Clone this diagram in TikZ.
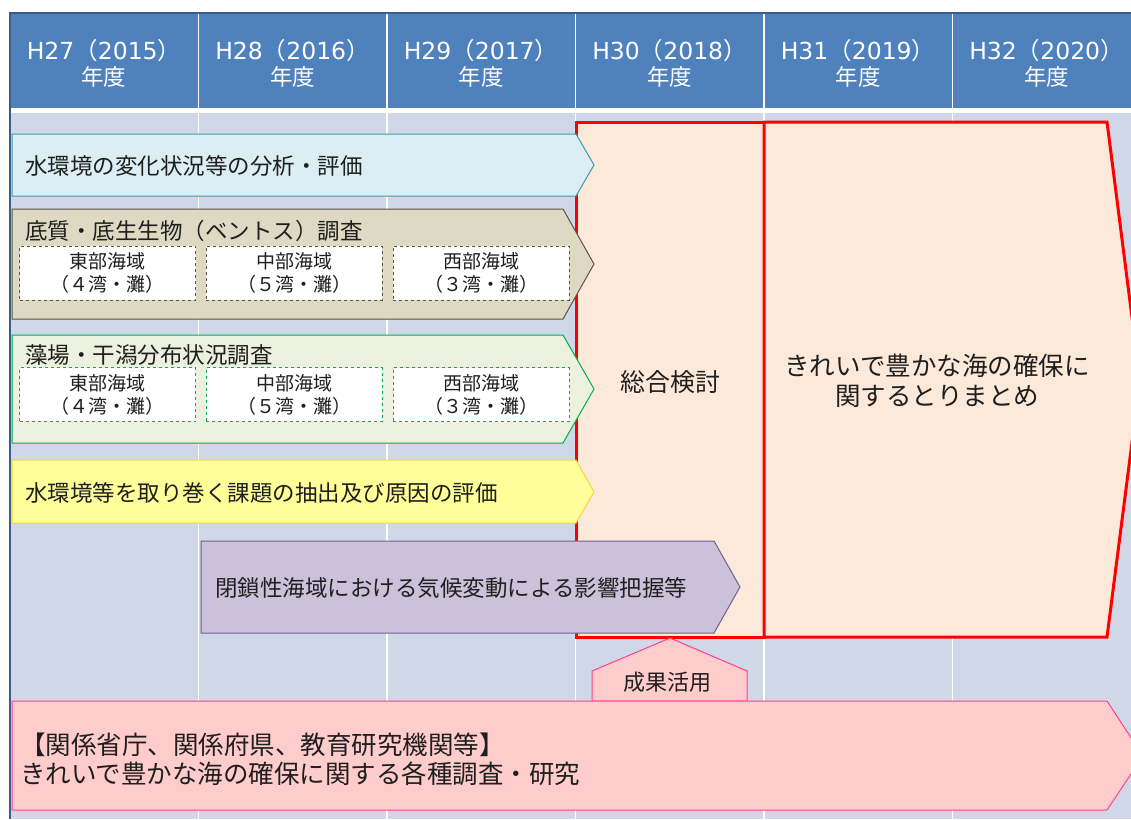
\documentclass[tikz,border=0pt]{standalone}
\usepackage{fontspec}
\setmainfont{Noto Sans CJK JP}
\newfontfamily\yrlatin{DejaVu Sans}
\usetikzlibrary{positioning}
\definecolor{hdrblue}{HTML}{4F81BD}
\definecolor{hdrline}{HTML}{385D8A}
\definecolor{gridbg}{HTML}{D0D8E8}
\definecolor{anlfill}{HTML}{DAEEF3}
\definecolor{anldraw}{HTML}{4198AF}
\definecolor{btmfill}{HTML}{DDD9C3}
\definecolor{btmdraw}{HTML}{5A5440}
\definecolor{seafill}{HTML}{EBF1DE}
\definecolor{seadraw}{HTML}{00B050}
\definecolor{isufill}{HTML}{FFFF99}
\definecolor{isudraw}{HTML}{F5D445}
\definecolor{clmfill}{HTML}{CCC1DA}
\definecolor{clmdraw}{HTML}{6F6391}
\definecolor{sumfill}{HTML}{FDE9D9}
\definecolor{resfill}{HTML}{FFCCCC}
\definecolor{resdraw}{HTML}{FF3F8F}
\definecolor{ink}{HTML}{1F1F1F}

\begin{document}
\begin{tikzpicture}[x=1pt,y=-1pt]
    \tikzstyle{yr} = [text=white, align=center, font=\fontsize{23.5}{26}\selectfont]
    \tikzstyle{lbl} = [anchor=west, inner sep=0pt, text=ink, font=\fontsize{22.5}{27}\selectfont]
    \tikzstyle{area} = [rectangle, draw, dashed, fill=white, minimum width=176pt, minimum height=54pt, inner sep=0pt, align=center, text=ink, font=\fontsize{19}{23}\selectfont]
    \tikzstyle{band} = [line width=1pt]
    \path[use as bounding box, clip] (0,0) rectangle (1131,819);
    \fill[white] (0,0) rectangle (1131,819);
    % year grid
    \fill[gridbg] (10,113) rectangle (1131,819);
    \fill[hdrblue] (10,13) rectangle (1131,108);
    \foreach \i in {1,...,5}
        \draw[white, line width=1.5pt] ({10+188.5*\i},13) -- ({10+188.5*\i},819);
    \draw[hdrline, line width=1.5pt] (1131,13) -- (10,13) -- (10,819);
    \foreach \n/\yr [count=\i from 0] in {27/2015,28/2016,29/2017,30/2018,31/2019,32/2020}
        \node [yr] (yr\n) at ({104+188.5*\i},63) {{\yrlatin H\n}（{\yrlatin\yr}）\\{\fontsize{22.5}{26}\selectfont 年度}};
    % summary
    \draw[red, line width=3pt, fill=sumfill] (576,122) rectangle (764,637);
    \draw[red, line width=3pt, fill=sumfill] (764,122) -- (1107,122) -- (1140,380) -- (1107,637) -- (764,637) -- cycle;
    \node [text=ink, font=\fontsize{25}{30}\selectfont] (sum) at (670,382) {総合検討};
    \node [text=ink, align=center, font=\fontsize{25.5}{30}\selectfont] (wrap) at (937,381) {きれいで豊かな海の確保に\\関するとりまとめ};
    % surveys
    \draw[band, anldraw, fill=anlfill] (12,134) -- (576,134) -- (594,165) -- (576,196) -- (12,196) -- cycle;
    \node [lbl] (anl) at (25,166) {水環境の変化状況等の分析・評価};
    \draw[band, btmdraw, fill=btmfill] (12,209) -- (563,209) -- (594,264) -- (563,319) -- (12,319) -- cycle;
    \node [lbl] (btm) at (25,231) {底質・底生生物（ベントス）調査};
    \node [area, draw=btmdraw] (btm-e) at (107.5,273) {東部海域\\（４湾・灘）};
    \node [area, draw=btmdraw, right=10.5pt of btm-e] (btm-c) {中部海域\\（５湾・灘）};
    \node [area, draw=btmdraw, right=10.5pt of btm-c] (btm-w) {西部海域\\（３湾・灘）};
    \draw[band, seadraw, fill=seafill] (12,335) -- (563,335) -- (594,389) -- (563,443) -- (12,443) -- cycle;
    \node [lbl] (sea) at (25,355) {藻場・干潟分布状況調査};
    \node [area, draw=seadraw] (sea-e) at (107.5,394.5) {東部海域\\（４湾・灘）};
    \node [area, draw=seadraw, right=10.5pt of sea-e] (sea-c) {中部海域\\（５湾・灘）};
    \node [area, draw=seadraw, right=10.5pt of sea-c] (sea-w) {西部海域\\（３湾・灘）};
    \draw[band, isudraw, fill=isufill] (12,460) -- (576,460) -- (594,492) -- (576,523) -- (12,523) -- cycle;
    \node [lbl] (isu) at (25,493) {水環境等を取り巻く課題の抽出及び原因の評価};
    \draw[band, clmdraw, fill=clmfill] (201,541) -- (714,541) -- (740,587) -- (714,633) -- (201,633) -- cycle;
    \node [lbl] (clm) at (215,588) {閉鎖性海域における気候変動による影響把握等};
    % research
    \draw[band, resdraw, fill=resfill] (592,701) -- (592,671) -- (670,638) -- (747,671) -- (747,701) -- cycle;
    \node [text=ink, font=\fontsize{22}{24}\selectfont] (use) at (667,682) {成果活用};
    \draw[band, resdraw, fill=resfill] (12,701) -- (1107,701) -- (1143,756) -- (1107,810) -- (12,810) -- cycle;
    \node [lbl, align=left, font=\fontsize{25.5}{29}\selectfont] (org) at (20,759) {【関係省庁、関係府県、教育研究機関等】\\きれいで豊かな海の確保に関する各種調査・研究};
\end{tikzpicture}
\end{document}
